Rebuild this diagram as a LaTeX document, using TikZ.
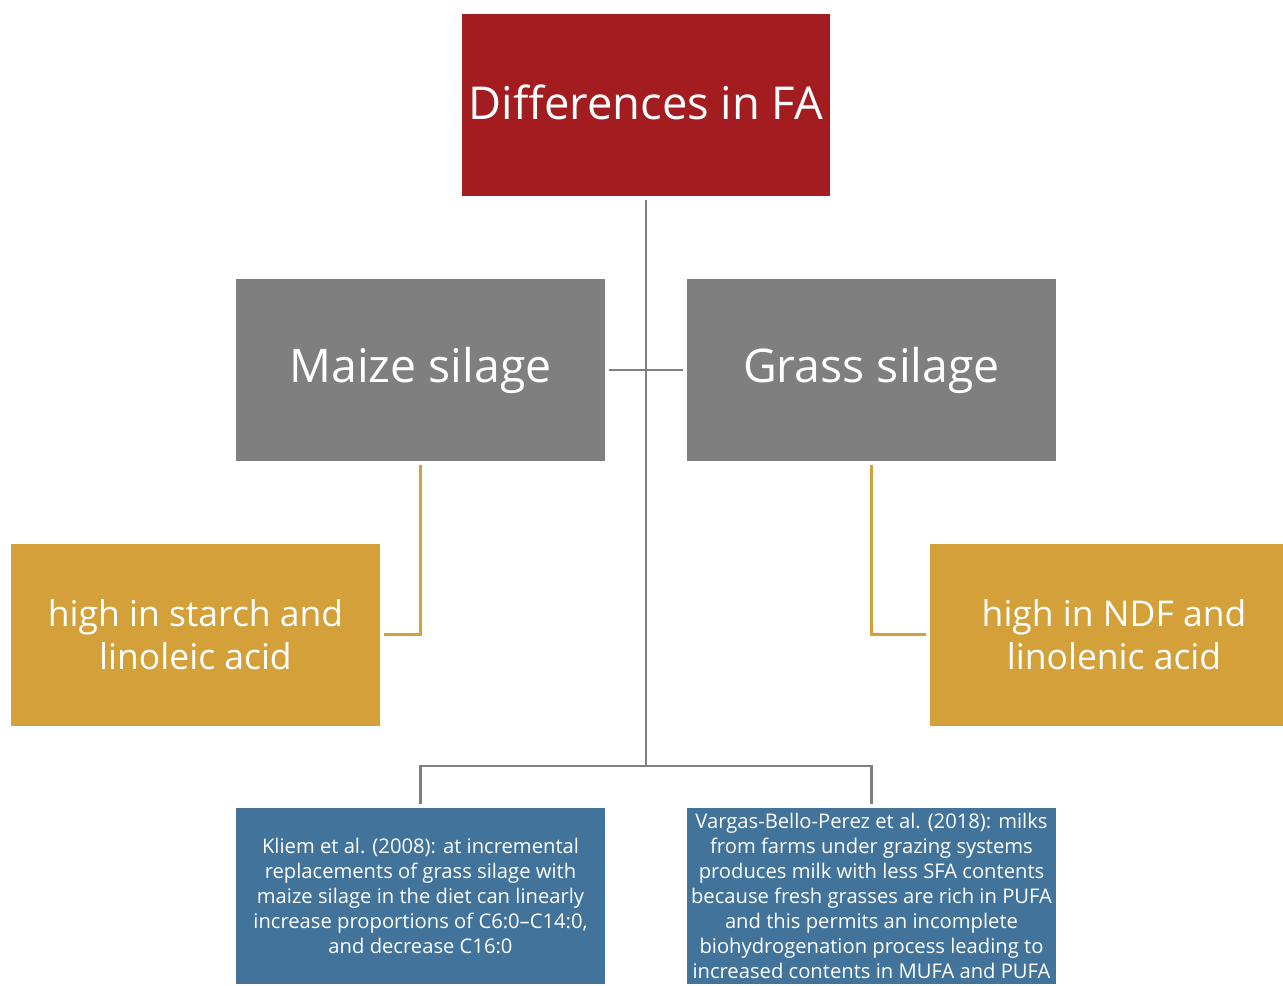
\documentclass[tikz,border=0pt]{standalone}
\usepackage{fontspec}
\setmainfont{Open Sans}
\usetikzlibrary{positioning}

\definecolor{topred}{HTML}{A21C20}
\definecolor{silgray}{HTML}{7F7F7F}
\definecolor{hgold}{HTML}{D4A03A}
\definecolor{refblue}{HTML}{41739B}

\tikzset{
  box/.style={draw=none, text=white, align=center, inner sep=0pt, outer sep=2.3pt,
              minimum width=7.38cm, minimum height=3.64cm},
  head/.style={box, fill=topred, font=\fontsize{25.8}{31}\selectfont},
  silage/.style={box, fill=silgray, font=\fontsize{26.4}{31}\selectfont},
  trait/.style={box, fill=hgold, font=\fontsize{20.2}{24.5}\selectfont},
  ref/.style={box, fill=refblue, minimum height=3.52cm,
              font=\fontsize{11.5}{14.2}\selectfont},
  grayline/.style={draw=silgray, line width=1.6pt},
  goldline/.style={draw=hgold, line width=1.5pt}
}

\begin{document}
\begin{tikzpicture}[x=0.02cm,y=-0.02cm]

\useasboundingbox (0,0) rectangle (1283,985);

\node[head]   (fa)    at (646,105)    {\raisebox{3.5pt}{Differences in FA}};

\node[silage] (maize) at (420.5,370)  {Maize silage};
\node[silage] (grass) at (871.5,370)  {Grass silage};

\node[trait]  (starch) at (195.5,634.5) {high in starch and\\linoleic acid};
\node[trait]  (ndf)    at (1114,634.5)  {high in NDF and\\linolenic acid};

\node[ref] (kliem)  at (420.5,896) {Kliem et al. (2008): at incremental\\
  replacements of grass silage with\\ maize silage in the diet can linearly\\
  increase proportions of C6:0--C14:0,\\ and decrease C16:0};
\node[ref] (vargas) at (871.5,896) {Vargas-Bello-Perez et al. (2018): milks\\
  from farms under grazing systems\\ produces milk with less SFA contents\\
  because fresh grasses are rich in PUFA\\ and this permits an incomplete\\
  biohydrogenation process leading to\\ increased contents in MUFA and PUFA};

\coordinate (split) at (646,766);

\draw[grayline] (fa) -- (split);
\draw[grayline] (split) -| (kliem);
\draw[grayline] (split) -| (vargas);
\draw[grayline] (maize) -- (grass);

\draw[goldline] (maize) |- (starch);
\draw[goldline] (grass) |- (ndf);

\end{tikzpicture}
\end{document}
